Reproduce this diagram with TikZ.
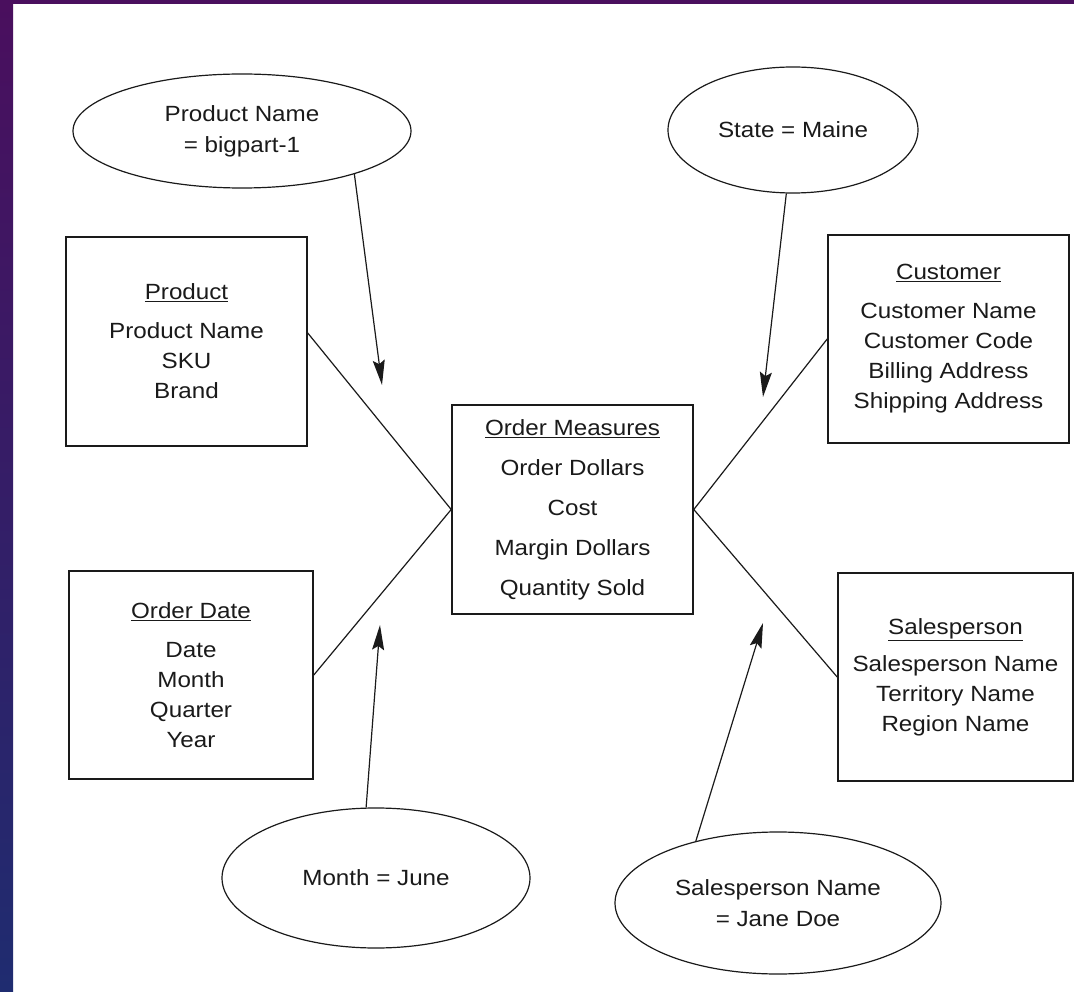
\documentclass[tikz,border=0pt]{standalone}
\usepackage{fontspec}
\setmainfont{Liberation Sans}[FakeStretch=1.1]
\usetikzlibrary{shapes.geometric,arrows.meta,calc}
\definecolor{slidepurple}{HTML}{4A0F5E}
\definecolor{slideblue}{HTML}{1F2C70}
\definecolor{ink}{HTML}{1A1A1A}
\begin{document}
\begin{tikzpicture}[x=1pt,y=-1pt,
  every node/.style={text=ink},
  dimbox/.style={draw=ink, line width=1.6pt, rectangle, inner sep=0pt, align=center,
    font=\fontsize{22}{30}\selectfont},
  factbox/.style={draw=ink, line width=1.6pt, rectangle, inner sep=0pt, align=center,
    font=\fontsize{22}{40}\selectfont},
  filt/.style={draw=ink, line width=1.2pt, ellipse, inner sep=0pt, align=center,
    font=\fontsize{22}{31}\selectfont},
  link/.style={draw=ink, line width=1.2pt},
  pointer/.style={draw=ink, line width=1.2pt, -{Stealth[length=25pt,width=12pt,inset=4pt]}}
]
\useasboundingbox (0,0) rectangle (1074,992);
\fill[white] (0,0) rectangle (1074,992);
\shade[top color=slidepurple, bottom color=slideblue] (0,0) rectangle (13,992);
\fill[slidepurple] (0,0) rectangle (1074,4);

% fact table
\node[factbox, minimum width=241pt, minimum height=209pt] (fact) at (572.5,509.5)
  {\underline{Order Measures}\\Order Dollars\\Cost\\Margin Dollars\\Quantity Sold};

% dimensions
\node[dimbox, minimum width=241pt, minimum height=209pt] (prod) at (186.5,341.5)
  {\underline{Product}\\[9pt]Product Name\\SKU\\Brand};
\node[dimbox, minimum width=244pt, minimum height=208pt] (odate) at (191,675)
  {\underline{Order Date}\\[9pt]Date\\Month\\Quarter\\Year};
\node[dimbox, minimum width=241pt, minimum height=208pt] (cust) at (948.5,339)
  {\underline{Customer}\\[9pt]Customer Name\\Customer Code\\Billing Address\\Shipping Address};
\node[dimbox, minimum width=235pt, minimum height=208pt] (sales) at (955.5,677)
  {\underline{Salesperson}\\[7pt]Salesperson Name\\Territory Name\\Region Name};

% filters
\node[filt, minimum width=338pt, minimum height=114pt] (fprod) at (242,131)
  {Product Name\\= bigpart-1};
\node[filt, minimum width=250pt, minimum height=126pt] (fstate) at (793,130)
  {State = Maine};
\node[filt, minimum width=308pt, minimum height=140pt] (fmonth) at (376,878)
  {Month = June};
\node[filt, minimum width=326pt, minimum height=142pt] (fsales) at (778,903)
  {Salesperson Name\\= Jane Doe};

% arrow tips
\coordinate (t1) at (382,385);
\coordinate (t2) at (763,397);
\coordinate (t3) at (380,625);
\coordinate (t4) at (763,623);

% links
\draw[link] ($(prod.north east)!0.46!(prod.south east)$) -- (fact.west);
\draw[link] (odate.east) -- (fact.west);
\draw[link] (cust.west) -- (fact.east);
\draw[link] (sales.west) -- (fact.east);

% pointers
\draw[pointer] (fprod.-21) -- (t1);
\draw[pointer] (fstate.-96) -- (t2);
\draw[pointer] (fmonth.98) -- (t3);
\draw[pointer] (fsales.143.6) -- (t4);
\end{tikzpicture}
\end{document}
